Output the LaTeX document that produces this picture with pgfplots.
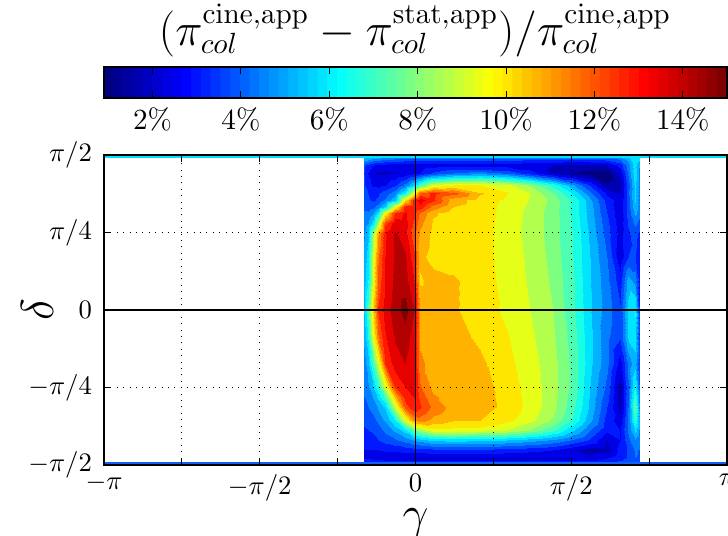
\documentclass[border=0pt]{standalone}
\usepackage{pgfplots}
\pgfplotsset{compat=1.18}
\def\PX{0.375pt}
\begin{document}
\begin{tikzpicture}[x=\PX,y=\PX]
\useasboundingbox (0,0) rectangle (728,535);
\clip (0,0) rectangle (728,535);
% --- main axis: grid, labels, surface
\begin{axis}[
  at={(39pt,26.25pt)},anchor=south west,scale only axis,
  width=623*\PX,height=310*\PX,
  view={0}{90},
  xmin=-3.14159,xmax=3.14159,ymin=-1.5708,ymax=1.5708,
  xtick={-3.14159,-2.35619,-1.5708,-0.7854,0,0.7854,1.5708,2.35619,3.14159},
  xticklabels={$-\pi$,,$-\pi/2$,,$0$,,$\pi/2$,,$\pi$},
  ytick={-1.5708,-0.7854,0,0.7854,1.5708},
  yticklabels={$-\pi/2$,$-\pi/4$,$0$,$\pi/4$,$\pi/2$},
  yticklabel style={xshift=-1pt},
  major tick length=0pt,
  grid=major,
  grid style={black,dotted,line width=0.4pt},
  axis line style={line width=0.6pt},
  xlabel={$\gamma$},ylabel={$\delta$},
  xlabel style={font=\LARGE,yshift=4pt},
  ylabel style={font=\LARGE,at={(axis description cs:-0.107,0.5)},anchor=center},
  colormap/jet,
  point meta min=0.9,point meta max=15.7,
  clip=true,
]
\addplot3[contour filled={levels={0.9,1.6,2.3,3.0,3.7,4.4,5.1,5.8,6.5,7.2,7.9,8.6,9.3,10.0,10.7,11.4,12.1,12.8,13.5,14.2,14.9,15.7}},
  mesh/rows=25,mesh/cols=22] coordinates {
(-0.519,1.571,6.3)(-0.476,1.571,6.3)(-0.425,1.571,6.3)(-0.375,1.571,6.3)(-0.308,1.571,6.3)(-0.207,1.571,6.3)(-0.106,1.571,6.3)(-0.015,1.571,6.3)(0.045,1.571,6.3)(0.180,1.571,6.3)(0.382,1.571,6.3)(0.651,1.571,6.3)(0.920,1.571,6.3)(1.155,1.571,6.3)(1.390,1.571,6.3)(1.592,1.571,6.3)(1.760,1.571,6.3)(1.928,1.571,6.3)(2.063,1.571,6.3)(2.147,1.571,6.3)(2.214,1.571,6.5)(2.264,1.571,6.5)
(-0.519,1.527,5.6)(-0.476,1.527,5.4)(-0.425,1.527,5.0)(-0.375,1.527,4.8)(-0.308,1.527,4.6)(-0.207,1.527,4.4)(-0.106,1.527,4.2)(-0.015,1.527,4.0)(0.045,1.527,4.0)(0.180,1.527,4.0)(0.382,1.527,4.0)(0.651,1.527,4.0)(0.920,1.527,4.0)(1.155,1.527,3.9)(1.390,1.527,3.8)(1.592,1.527,3.8)(1.760,1.527,3.8)(1.928,1.527,4.0)(2.063,1.527,4.5)(2.147,1.527,5.4)(2.214,1.527,6.4)(2.264,1.527,6.0)
(-0.519,1.469,3.9)(-0.476,1.469,3.5)(-0.425,1.469,3.1)(-0.375,1.469,2.8)(-0.308,1.469,2.7)(-0.207,1.469,2.6)(-0.106,1.469,2.6)(-0.015,1.469,2.6)(0.045,1.469,2.6)(0.180,1.469,2.6)(0.382,1.469,2.6)(0.651,1.469,2.6)(0.920,1.469,2.6)(1.155,1.469,2.5)(1.390,1.469,2.3)(1.592,1.469,2.2)(1.760,1.469,2.2)(1.928,1.469,2.3)(2.063,1.469,3.3)(2.147,1.469,4.8)(2.214,1.469,6.2)(2.264,1.469,5.0)
(-0.519,1.385,3.7)(-0.476,1.385,3.0)(-0.425,1.385,2.4)(-0.375,1.385,2.2)(-0.308,1.385,2.2)(-0.207,1.385,2.3)(-0.106,1.385,2.5)(-0.015,1.385,2.8)(0.045,1.385,3.0)(0.180,1.385,3.8)(0.382,1.385,4.4)(0.651,1.385,4.8)(0.920,1.385,4.3)(1.155,1.385,3.3)(1.390,1.385,2.2)(1.592,1.385,1.6)(1.760,1.385,1.3)(1.928,1.385,1.2)(2.063,1.385,2.5)(2.147,1.385,4.5)(2.214,1.385,6.3)(2.264,1.385,4.5)
(-0.519,1.267,3.8)(-0.476,1.267,3.3)(-0.425,1.267,2.9)(-0.375,1.267,2.8)(-0.308,1.267,3.0)(-0.207,1.267,3.6)(-0.106,1.267,4.6)(-0.015,1.267,6.0)(0.045,1.267,7.5)(0.180,1.267,9.5)(0.382,1.267,10.0)(0.651,1.267,10.0)(0.920,1.267,9.5)(1.155,1.267,8.5)(1.390,1.267,7.0)(1.592,1.267,5.2)(1.760,1.267,3.6)(1.928,1.267,1.7)(2.063,1.267,2.0)(2.147,1.267,4.0)(2.214,1.267,6.0)(2.264,1.267,4.5)
(-0.519,1.182,4.0)(-0.476,1.182,3.7)(-0.425,1.182,3.5)(-0.375,1.182,3.6)(-0.308,1.182,4.0)(-0.207,1.182,4.8)(-0.106,1.182,6.5)(-0.015,1.182,9.8)(0.045,1.182,12.3)(0.180,1.182,13.0)(0.382,1.182,12.4)(0.651,1.182,10.8)(0.920,1.182,10.05)(1.155,1.182,9.3)(1.390,1.182,7.9)(1.592,1.182,6.4)(1.760,1.182,4.6)(1.928,1.182,2.8)(2.063,1.182,2.2)(2.147,1.182,4.2)(2.214,1.182,6.0)(2.264,1.182,4.5)
(-0.519,1.115,4.2)(-0.476,1.115,3.8)(-0.425,1.115,3.6)(-0.375,1.115,3.8)(-0.308,1.115,4.5)(-0.207,1.115,5.6)(-0.106,1.115,10.3)(-0.015,1.115,13.2)(0.045,1.115,13.9)(0.180,1.115,13.0)(0.382,1.115,11.0)(0.651,1.115,10.4)(0.920,1.115,9.85)(1.155,1.115,9.25)(1.390,1.115,8.35)(1.592,1.115,7.05)(1.760,1.115,5.3)(1.928,1.115,3.4)(2.063,1.115,2.6)(2.147,1.115,4.0)(2.214,1.115,5.9)(2.264,1.115,4.5)
(-0.519,1.047,4.3)(-0.476,1.047,4.1)(-0.425,1.047,4.2)(-0.375,1.047,4.8)(-0.308,1.047,6.0)(-0.207,1.047,10.0)(-0.106,1.047,13.2)(-0.015,1.047,13.4)(0.045,1.047,13.2)(0.180,1.047,11.8)(0.382,1.047,10.7)(0.651,1.047,10.4)(0.920,1.047,9.75)(1.155,1.047,9.15)(1.390,1.047,8.3)(1.592,1.047,7.0)(1.760,1.047,5.4)(1.928,1.047,3.55)(2.063,1.047,2.55)(2.147,1.047,4.0)(2.214,1.047,5.6)(2.264,1.047,4.5)
(-0.519,0.980,4.5)(-0.476,0.980,4.5)(-0.425,0.980,5.0)(-0.375,0.980,6.3)(-0.308,0.980,10.0)(-0.207,0.980,13.0)(-0.106,0.980,13.6)(-0.015,0.980,13.0)(0.045,0.980,12.0)(0.180,0.980,10.8)(0.382,0.980,10.35)(0.651,0.980,10.4)(0.920,0.980,9.7)(1.155,0.980,9.1)(1.390,0.980,8.25)(1.592,0.980,7.0)(1.760,0.980,5.45)(1.928,0.980,3.7)(2.063,0.980,2.5)(2.147,0.980,4.0)(2.214,0.980,5.3)(2.264,0.980,4.5)
(-0.519,0.878,4.8)(-0.476,0.878,5.1)(-0.425,0.878,6.2)(-0.375,0.878,8.8)(-0.308,0.878,12.6)(-0.207,0.878,13.9)(-0.106,0.878,13.8)(-0.015,0.878,12.7)(0.045,0.878,11.6)(0.180,0.878,10.6)(0.382,0.878,10.35)(0.651,0.878,10.35)(0.920,0.878,9.68)(1.155,0.878,9.08)(1.390,0.878,8.25)(1.592,0.878,7.1)(1.760,0.878,5.55)(1.928,0.878,3.9)(2.063,0.878,2.6)(2.147,0.878,3.8)(2.214,0.878,4.6)(2.264,0.878,4.0)
(-0.519,0.777,5.0)(-0.476,0.777,5.6)(-0.425,0.777,8.5)(-0.375,0.777,11.3)(-0.308,0.777,13.4)(-0.207,0.777,14.3)(-0.106,0.777,13.8)(-0.015,0.777,12.3)(0.045,0.777,11.3)(0.180,0.777,10.5)(0.382,0.777,10.35)(0.651,0.777,10.3)(0.920,0.777,9.65)(1.155,0.777,9.05)(1.390,0.777,8.25)(1.592,0.777,7.15)(1.760,0.777,5.65)(1.928,0.777,4.05)(2.063,0.777,2.7)(2.147,0.777,3.6)(2.214,0.777,4.0)(2.264,0.777,3.5)
(-0.519,0.540,5.3)(-0.476,0.540,6.2)(-0.425,0.540,9.5)(-0.375,0.540,12.0)(-0.308,0.540,13.5)(-0.207,0.540,14.3)(-0.106,0.540,14.3)(-0.015,0.540,13.0)(0.045,0.540,10.9)(0.180,0.540,10.4)(0.382,0.540,10.35)(0.651,0.540,10.3)(0.920,0.540,9.7)(1.155,0.540,9.15)(1.390,0.540,8.35)(1.592,0.540,7.2)(1.760,0.540,5.8)(1.928,0.540,4.4)(2.063,0.540,2.5)(2.147,0.540,3.7)(2.214,0.540,3.8)(2.264,0.540,3.0)
(-0.519,0.304,5.4)(-0.476,0.304,6.5)(-0.425,0.304,9.7)(-0.375,0.304,12.3)(-0.308,0.304,13.5)(-0.207,0.304,14.4)(-0.106,0.304,14.5)(-0.015,0.304,13.5)(0.045,0.304,10.6)(0.180,0.304,11.0)(0.382,0.304,10.8)(0.651,0.304,10.35)(0.920,0.304,9.75)(1.155,0.304,9.2)(1.390,0.304,8.45)(1.592,0.304,7.3)(1.760,0.304,5.85)(1.928,0.304,4.6)(2.063,0.304,3.3)(2.147,0.304,5.4)(2.214,0.304,4.8)(2.264,0.304,3.0)
(-0.519,0,5.8)(-0.476,0,7.5)(-0.425,0,10.6)(-0.375,0,12.9)(-0.308,0,13.8)(-0.207,0,14.6)(-0.106,0,15.2)(-0.015,0,14.2)(0.045,0,11.2)(0.180,0,11.1)(0.382,0,10.8)(0.651,0,10.35)(0.920,0,9.85)(1.155,0,9.3)(1.390,0,8.6)(1.592,0,7.35)(1.760,0,5.9)(1.928,0,4.75)(2.063,0,3.8)(2.147,0,6.0)(2.214,0,6.6)(2.264,0,3.0)
(-0.519,-0.270,5.3)(-0.476,-0.270,6.6)(-0.425,-0.270,9.7)(-0.375,-0.270,12.0)(-0.308,-0.270,13.4)(-0.207,-0.270,14.3)(-0.106,-0.270,14.6)(-0.015,-0.270,13.8)(0.045,-0.270,11.3)(0.180,-0.270,11.1)(0.382,-0.270,11.0)(0.651,-0.270,10.55)(0.920,-0.270,10.05)(1.155,-0.270,9.45)(1.390,-0.270,8.7)(1.592,-0.270,7.55)(1.760,-0.270,6.0)(1.928,-0.270,4.55)(2.063,-0.270,3.8)(2.147,-0.270,5.9)(2.214,-0.270,6.2)(2.264,-0.270,3.2)
(-0.519,-0.540,4.8)(-0.476,-0.540,5.5)(-0.425,-0.540,7.5)(-0.375,-0.540,9.4)(-0.308,-0.540,12.8)(-0.207,-0.540,13.9)(-0.106,-0.540,14.2)(-0.015,-0.540,13.6)(0.045,-0.540,11.5)(0.180,-0.540,11.2)(0.382,-0.540,11.0)(0.651,-0.540,10.85)(0.920,-0.540,10.2)(1.155,-0.540,9.6)(1.390,-0.540,8.85)(1.592,-0.540,7.7)(1.760,-0.540,6.0)(1.928,-0.540,4.6)(2.063,-0.540,2.7)(2.147,-0.540,4.6)(2.214,-0.540,5.5)(2.264,-0.540,3.5)
(-0.519,-0.777,4.6)(-0.476,-0.777,5.0)(-0.425,-0.777,5.8)(-0.375,-0.777,7.0)(-0.308,-0.777,9.4)(-0.207,-0.777,12.8)(-0.106,-0.777,13.5)(-0.015,-0.777,13.5)(0.045,-0.777,12.2)(0.180,-0.777,11.2)(0.382,-0.777,11.1)(0.651,-0.777,11.0)(0.920,-0.777,10.4)(1.155,-0.777,9.7)(1.390,-0.777,8.9)(1.592,-0.777,7.7)(1.760,-0.777,5.8)(1.928,-0.777,4.2)(2.063,-0.777,1.9)(2.147,-0.777,4.3)(2.214,-0.777,6.6)(2.264,-0.777,3.8)
(-0.519,-0.878,4.4)(-0.476,-0.878,4.7)(-0.425,-0.878,5.2)(-0.375,-0.878,6.0)(-0.308,-0.878,7.4)(-0.207,-0.878,11.0)(-0.106,-0.878,13.1)(-0.015,-0.878,13.5)(0.045,-0.878,12.6)(0.180,-0.878,11.5)(0.382,-0.878,11.1)(0.651,-0.878,11.0)(0.920,-0.878,10.45)(1.155,-0.878,9.72)(1.390,-0.878,8.88)(1.592,-0.878,7.55)(1.760,-0.878,5.7)(1.928,-0.878,3.95)(2.063,-0.878,1.9)(2.147,-0.878,4.35)(2.214,-0.878,7.3)(2.264,-0.878,4.0)
(-0.519,-0.980,4.2)(-0.476,-0.980,4.4)(-0.425,-0.980,4.7)(-0.375,-0.980,5.2)(-0.308,-0.980,5.9)(-0.207,-0.980,9.3)(-0.106,-0.980,12.4)(-0.015,-0.980,13.4)(0.045,-0.980,12.9)(0.180,-0.980,11.9)(0.382,-0.980,11.1)(0.651,-0.980,11.0)(0.920,-0.980,10.5)(1.155,-0.980,9.75)(1.390,-0.980,8.85)(1.592,-0.980,7.4)(1.760,-0.980,5.65)(1.928,-0.980,3.7)(2.063,-0.980,2.0)(2.147,-0.980,4.4)(2.214,-0.980,8.0)(2.264,-0.980,4.3)
(-0.519,-1.115,3.9)(-0.476,-1.115,4.0)(-0.425,-1.115,4.2)(-0.375,-1.115,4.6)(-0.308,-1.115,5.2)(-0.207,-1.115,6.6)(-0.106,-1.115,9.6)(-0.015,-1.115,11.6)(0.045,-1.115,11.8)(0.180,-1.115,11.2)(0.382,-1.115,10.8)(0.651,-1.115,10.7)(0.920,-1.115,10.2)(1.155,-1.115,9.55)(1.390,-1.115,8.5)(1.592,-1.115,7.1)(1.760,-1.115,5.3)(1.928,-1.115,3.4)(2.063,-1.115,2.6)(2.147,-1.115,4.6)(2.214,-1.115,7.2)(2.264,-1.115,4.6)
(-0.519,-1.216,3.6)(-0.476,-1.216,3.7)(-0.425,-1.216,3.8)(-0.375,-1.216,4.0)(-0.308,-1.216,4.6)(-0.207,-1.216,5.3)(-0.106,-1.216,6.2)(-0.015,-1.216,8.0)(0.045,-1.216,8.8)(0.180,-1.216,9.8)(0.382,-1.216,9.8)(0.651,-1.216,9.7)(0.920,-1.216,9.3)(1.155,-1.216,8.5)(1.390,-1.216,7.4)(1.592,-1.216,5.9)(1.760,-1.216,4.4)(1.928,-1.216,3.2)(2.063,-1.216,3.0)(2.147,-1.216,4.5)(2.214,-1.216,6.0)(2.264,-1.216,4.6)
(-0.519,-1.317,3.3)(-0.476,-1.317,3.3)(-0.425,-1.317,3.5)(-0.375,-1.317,3.7)(-0.308,-1.317,4.0)(-0.207,-1.317,4.3)(-0.106,-1.317,4.7)(-0.015,-1.317,5.2)(0.045,-1.317,5.5)(0.180,-1.317,6.0)(0.382,-1.317,6.1)(0.651,-1.317,6.0)(0.920,-1.317,5.8)(1.155,-1.317,5.4)(1.390,-1.317,5.0)(1.592,-1.317,4.3)(1.760,-1.317,3.6)(1.928,-1.317,2.3)(2.063,-1.317,3.0)(2.147,-1.317,4.2)(2.214,-1.317,5.0)(2.264,-1.317,4.4)
(-0.519,-1.419,3.0)(-0.476,-1.419,3.0)(-0.425,-1.419,3.0)(-0.375,-1.419,3.0)(-0.308,-1.419,3.1)(-0.207,-1.419,3.2)(-0.106,-1.419,3.3)(-0.015,-1.419,3.4)(0.045,-1.419,3.4)(0.180,-1.419,3.5)(0.382,-1.419,3.5)(0.651,-1.419,3.5)(0.920,-1.419,3.4)(1.155,-1.419,3.2)(1.390,-1.419,3.0)(1.592,-1.419,2.4)(1.760,-1.419,1.9)(1.928,-1.419,2.0)(2.063,-1.419,3.2)(2.147,-1.419,3.8)(2.214,-1.419,4.5)(2.264,-1.419,4.3)
(-0.519,-1.503,3.0)(-0.476,-1.503,2.9)(-0.425,-1.503,2.8)(-0.375,-1.503,2.6)(-0.308,-1.503,2.5)(-0.207,-1.503,2.4)(-0.106,-1.503,2.3)(-0.015,-1.503,2.3)(0.045,-1.503,2.3)(0.180,-1.503,2.3)(0.382,-1.503,2.3)(0.651,-1.503,2.3)(0.920,-1.503,2.3)(1.155,-1.503,2.3)(1.390,-1.503,2.3)(1.592,-1.503,2.3)(1.760,-1.503,2.4)(1.928,-1.503,3.0)(2.063,-1.503,3.5)(2.147,-1.503,3.8)(2.214,-1.503,4.4)(2.264,-1.503,4.3)
(-0.519,-1.571,4.2)(-0.476,-1.571,4.2)(-0.425,-1.571,4.2)(-0.375,-1.571,4.2)(-0.308,-1.571,4.2)(-0.207,-1.571,4.2)(-0.106,-1.571,4.2)(-0.015,-1.571,4.2)(0.045,-1.571,4.2)(0.180,-1.571,4.2)(0.382,-1.571,4.2)(0.651,-1.571,4.2)(0.920,-1.571,4.2)(1.155,-1.571,4.2)(1.390,-1.571,4.2)(1.592,-1.571,4.2)(1.760,-1.571,4.2)(1.928,-1.571,4.2)(2.063,-1.571,4.2)(2.147,-1.571,4.2)(2.214,-1.571,4.4)(2.264,-1.571,4.4)
};
\end{axis}
% --- overlay axis: edge strips, zero lines, ticks, frame
\definecolor{stripT}{RGB}{0,225,255}
\definecolor{stripB}{RGB}{20,95,245}
\begin{axis}[
  at={(39pt,26.25pt)},anchor=south west,scale only axis,
  width=623*\PX,height=310*\PX,
  xmin=-3.14159,xmax=3.14159,ymin=-1.5708,ymax=1.5708,
  xtick={-3.14159,-2.35619,-1.5708,-0.7854,0,0.7854,1.5708,2.35619,3.14159},
  ytick={-1.5708,-0.7854,0,0.7854,1.5708},
  xticklabels={},yticklabels={},
  major tick length=2.5pt,
  tick align=inside,tick style={black,line width=0.4pt},
  axis line style={line width=0.6pt},
  axis on top,
]
\addplot[stripT,line width=2.4pt,forget plot] coordinates {(-3.14159,1.5708)(3.14159,1.5708)};
\addplot[stripB,line width=2.6pt,forget plot] coordinates {(-3.14159,-1.5708)(3.14159,-1.5708)};
\addplot[black,line width=0.5pt,forget plot] coordinates {(-3.14159,0)(3.14159,0)};
\addplot[black,line width=0.5pt,forget plot] coordinates {(0,-1.5708)(0,1.5708)};
\end{axis}
% --- colour bar
\begin{axis}[
  at={(39pt,163.875pt)},anchor=south west,scale only axis,
  width=623*\PX,height=31*\PX,
  xmin=0,xmax=64,ymin=0,ymax=1,
  xtick={4.99,14.07,23.15,32.23,41.30,50.38,59.46},
  xticklabels={$2\%$,$4\%$,$6\%$,$8\%$,$10\%$,$12\%$,$14\%$},
  xticklabel style={font=\fontsize{11}{13}\selectfont},
  ytick=\empty,
  major tick length=2.5pt,
  tick align=inside,tick style={black,line width=0.4pt},
  axis line style={line width=0.6pt},
  axis on top,
  colormap/jet,
  point meta min=0.5,point meta max=63.5,
]
\addplot[matrix plot*,mesh/rows=2,mesh/cols=64,point meta=x] coordinates {
(0.5,0.25)(1.5,0.25)(2.5,0.25)(3.5,0.25)(4.5,0.25)(5.5,0.25)(6.5,0.25)(7.5,0.25)(8.5,0.25)(9.5,0.25)(10.5,0.25)(11.5,0.25)(12.5,0.25)(13.5,0.25)(14.5,0.25)(15.5,0.25)(16.5,0.25)(17.5,0.25)(18.5,0.25)(19.5,0.25)(20.5,0.25)(21.5,0.25)(22.5,0.25)(23.5,0.25)(24.5,0.25)(25.5,0.25)(26.5,0.25)(27.5,0.25)(28.5,0.25)(29.5,0.25)(30.5,0.25)(31.5,0.25)(32.5,0.25)(33.5,0.25)(34.5,0.25)(35.5,0.25)(36.5,0.25)(37.5,0.25)(38.5,0.25)(39.5,0.25)(40.5,0.25)(41.5,0.25)(42.5,0.25)(43.5,0.25)(44.5,0.25)(45.5,0.25)(46.5,0.25)(47.5,0.25)(48.5,0.25)(49.5,0.25)(50.5,0.25)(51.5,0.25)(52.5,0.25)(53.5,0.25)(54.5,0.25)(55.5,0.25)(56.5,0.25)(57.5,0.25)(58.5,0.25)(59.5,0.25)(60.5,0.25)(61.5,0.25)(62.5,0.25)(63.5,0.25)
(0.5,0.75)(1.5,0.75)(2.5,0.75)(3.5,0.75)(4.5,0.75)(5.5,0.75)(6.5,0.75)(7.5,0.75)(8.5,0.75)(9.5,0.75)(10.5,0.75)(11.5,0.75)(12.5,0.75)(13.5,0.75)(14.5,0.75)(15.5,0.75)(16.5,0.75)(17.5,0.75)(18.5,0.75)(19.5,0.75)(20.5,0.75)(21.5,0.75)(22.5,0.75)(23.5,0.75)(24.5,0.75)(25.5,0.75)(26.5,0.75)(27.5,0.75)(28.5,0.75)(29.5,0.75)(30.5,0.75)(31.5,0.75)(32.5,0.75)(33.5,0.75)(34.5,0.75)(35.5,0.75)(36.5,0.75)(37.5,0.75)(38.5,0.75)(39.5,0.75)(40.5,0.75)(41.5,0.75)(42.5,0.75)(43.5,0.75)(44.5,0.75)(45.5,0.75)(46.5,0.75)(47.5,0.75)(48.5,0.75)(49.5,0.75)(50.5,0.75)(51.5,0.75)(52.5,0.75)(53.5,0.75)(54.5,0.75)(55.5,0.75)(56.5,0.75)(57.5,0.75)(58.5,0.75)(59.5,0.75)(60.5,0.75)(61.5,0.75)(62.5,0.75)(63.5,0.75)
};
\end{axis}
\node[anchor=base,font=\fontsize{16}{18}\selectfont] at (415,490) {$(\pi_{col}^{\mathrm{cine,app}}-\pi_{col}^{\mathrm{stat,app}})/\pi_{col}^{\mathrm{cine,app}}$};
\end{tikzpicture}
\end{document}
